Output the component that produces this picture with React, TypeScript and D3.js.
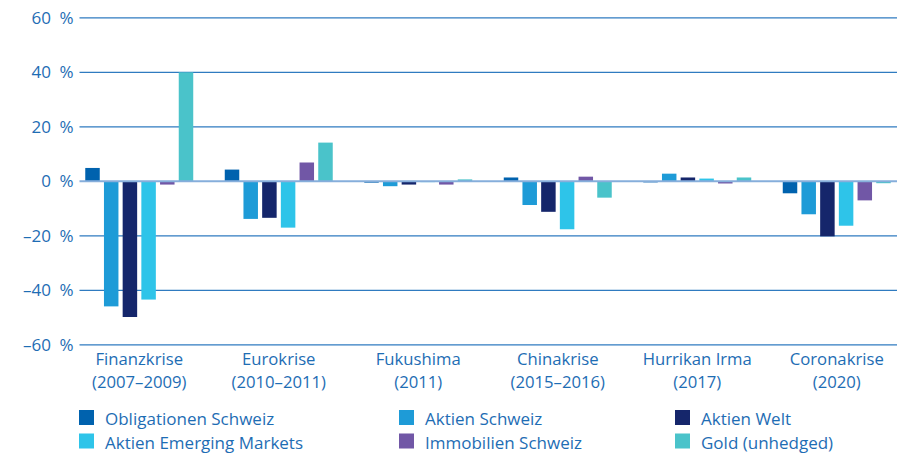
import React from "react";
import * as d3 from "d3";

const categories = [
  ["Finanzkrise", "(2007–2009)"],
  ["Eurokrise", "(2010–2011)"],
  ["Fukushima", "(2011)"],
  ["Chinakrise", "(2015–2016)"],
  ["Hurrikan Irma", "(2017)"],
  ["Coronakrise", "(2020)"],
];

const seriesNames = [
  "Obligationen Schweiz",
  "Aktien Schweiz",
  "Aktien Welt",
  "Aktien Emerging Markets",
  "Immobilien Schweiz",
  "Gold (unhedged)",
];

const obligationenSchweiz = [4.9, 4.3, -0.5, 1.4, -0.4, -4.4];
const aktienSchweiz = [-45.9, -13.8, -1.8, -8.7, 2.8, -12.1];
const aktienWelt = [-49.8, -13.4, -1.2, -11.2, 1.4, -20.2];
const aktienEM = [-43.4, -17.0, -0.3, -17.6, 1.0, -16.3];
const immobilienSchweiz = [-1.2, 6.9, -1.2, 1.7, -0.8, -7.0];
const gold = [40.0, 14.2, 0.7, -6.0, 1.4, -0.7];

const seriesValues = [obligationenSchweiz, aktienSchweiz, aktienWelt, aktienEM, immobilienSchweiz, gold];

const yTicks = [60, 40, 20, 0, -20, -40, -60];

const colors = ["#0062ae", "#1e9bd7", "#15266b", "#2ec4e9", "#7157a6", "#4ac3ca"];

const FONT = "'Open Sans', sans-serif";
const TEXT = "#1e6db4";

export default function App() {
  const W = 915;
  const H = 454;
  const y = d3.scaleLinear().domain([-60, 60]).range([344.8, 17.8]);
  const x0 = d3
    .scaleBand<number>()
    .domain(d3.range(categories.length))
    .range([69.5, 906.5])
    .paddingInner(0.226)
    .paddingOuter(0.113);
  const x1 = d3
    .scaleBand<number>()
    .domain(d3.range(seriesNames.length))
    .range([0, x0.bandwidth()])
    .paddingInner(0.225)
    .paddingOuter(0);

  const gridX0 = 79.5;
  const gridX1 = 897;

  const legendCols = [79, 399, 675];
  const legendRows = [410, 433.5];

  return (
    <svg
      width={W}
      height={H}
      style={{ position: "absolute", left: 0, top: 0 }}
      fontFamily={FONT}
    >
      {yTicks.map((t) => (
        <g key={t}>
          {t !== 0 && (
            <line
              x1={gridX0}
              x2={gridX1}
              y1={y(t)}
              y2={y(t)}
              stroke="#2f7bc0"
              strokeWidth={1.3}
            />
          )}
          <text
            x={73.5}
            y={y(t)}
            dy="0.36em"
            textAnchor="end"
            fontSize={17}
            fill={TEXT}
            style={{ whiteSpace: "pre" }}
          >
            {(t < 0 ? "–" + Math.abs(t) : String(t)) + "\u2002%"}
          </text>
        </g>
      ))}
      {seriesValues.map((vals, si) =>
        vals.map((v, ci) => {
          const xPos = (x0(ci) as number) + (x1(si) as number);
          const top = y(Math.max(0, v));
          const h = Math.abs(y(v) - y(0));
          return (
            <rect
              key={si + "-" + ci}
              x={xPos}
              y={top}
              width={x1.bandwidth()}
              height={Math.max(h, 0.8)}
              fill={colors[si]}
            />
          );
        })
      )}
      <line
        x1={gridX0}
        x2={gridX1}
        y1={y(0)}
        y2={y(0)}
        stroke="#86aedb"
        strokeWidth={2}
      />
      {categories.map((c, ci) => {
        const cx = (x0(ci) as number) + x0.bandwidth() / 2;
        return (
          <text key={ci} textAnchor="middle" fontSize={16.7} fill={TEXT}>
            <tspan x={cx} y={365}>
              {c[0]}
            </tspan>
            <tspan x={cx} y={388}>
              {c[1]}
            </tspan>
          </text>
        );
      })}
      {seriesNames.map((name, i) => {
        const col = i % 3;
        const row = Math.floor(i / 3);
        const lx = legendCols[col];
        const ly = legendRows[row];
        return (
          <g key={name}>
            <rect x={lx} y={ly} width={15} height={15} fill={colors[i]} />
            <text x={lx + 26} y={ly + 15} fontSize={17} fill={TEXT}>
              {name}
            </text>
          </g>
        );
      })}
    </svg>
  );
}
